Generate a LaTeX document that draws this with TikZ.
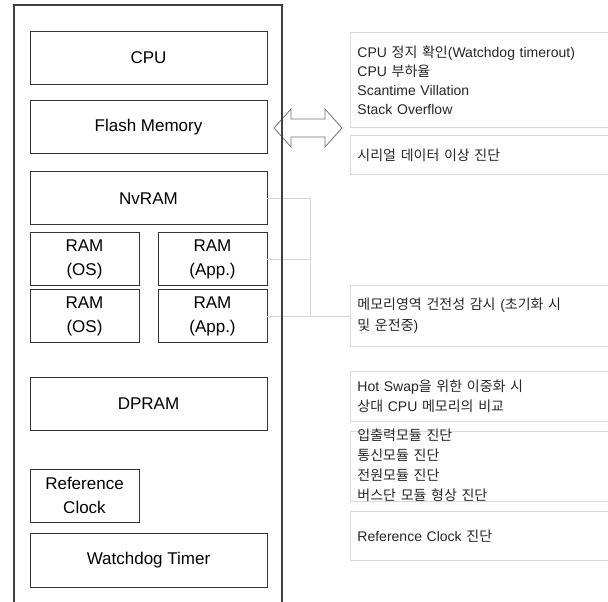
\documentclass[tikz,border=0pt]{standalone}
\usepackage{fontspec}
\setmainfont{Liberation Sans}
\newfontfamily\krfont{Noto Sans CJK KR}
\newcommand{\kr}[1]{{\krfont #1}}
\usetikzlibrary{positioning}
\tikzset{
    unitblock/.style={draw=black!80, line width=0.9pt, align=center, inner sep=0pt, font=\fontsize{17}{24}\selectfont, minimum width=237pt, minimum height=53pt},
    unithalf/.style={unitblock, minimum width=109pt},
    checkbox/.style={draw=black!15, line width=0.9pt, align=left, anchor=north west, inner xsep=7pt, inner ysep=0pt, text width=248pt, font=\fontsize{14}{19}\selectfont, text=black!85},
    linkline/.style={draw=black!16, line width=1pt},
    linkarrow/.style={draw=black!55, fill=white, line width=0.8pt, line join=miter},
    framewall/.style={draw=black!75, line width=1.1pt}
}
\begin{document}
\begin{tikzpicture}[x=1pt, y=-1pt, node distance=16pt]
    \useasboundingbox (0,0) rectangle (608,602);
    % module side
    \node[unitblock] (cpu) at (148.5,57.5) {CPU};
    \node[unitblock, below=16pt of cpu] (flash) {Flash Memory};
    \node[unitblock, below=17pt of flash] (nvram) {NvRAM};
    \node[unithalf, below=7pt of nvram.south west, anchor=north west] (ramos) {RAM\\(OS)};
    \node[unithalf, below=7pt of nvram.south east, anchor=north east] (ramapp) {RAM\\(App.)};
    \node[unithalf, below=3pt of ramos] (ramosb) {RAM\\(OS)};
    \node[unithalf, below=3pt of ramapp] (ramappb) {RAM\\(App.)};
    \node[unitblock, below=34pt of ramosb.south west, anchor=north west] (dpram) {DPRAM};
    \node[unithalf, below=38pt of dpram.south west, anchor=north west] (refclk) {Reference\\Clock};
    \node[unitblock, below=10pt of refclk.south west, anchor=north west, minimum height=54pt] (wdt) {Watchdog Timer};
    % diagnosis side
    \node[checkbox, minimum height=95pt] (cpuchk) at (350,32) {CPU \kr{정지 확인}(Watchdog timerout)\\CPU \kr{부하율}\\Scantime Villation\\Stack Overflow};
    \node[checkbox, minimum height=39pt] (serchk) at (350,135) {\kr{시리얼 데이터 이상 진단}};
    \node[checkbox, minimum height=61pt, font=\fontsize{14}{21}\selectfont, anchor=west] (memchk) at (350,315.5) {\kr{메모리영역 건전성 감시} (\kr{초기화 시}\\\kr{및 운전중})};
    \node[checkbox, minimum height=50pt, font=\fontsize{14}{20}\selectfont] (swapchk) at (350,371) {Hot Swap\kr{을 위한 이중화 시}\\\kr{상대} CPU \kr{메모리의 비교}};
    \node[checkbox, minimum height=70pt, text height=9pt, text depth=61pt, font=\fontsize{14}{20}\selectfont] (iochk) at (350,431) {\kr{입출력모듈 진단}\\\kr{통신모듈 진단}\\\kr{전원모듈 진단}\\\kr{버스단 모듈 형상 진단}};
    \node[checkbox, minimum height=49pt] (clkchk) at (350,511) {Reference Clock \kr{진단}};
    % memory links
    \path (ramappb.east) -- ++(43,0) coordinate (join);
    \draw[linkline] (nvram.east) -| (join);
    \draw[linkline] (ramapp.east) -| (join);
    \draw[linkline] (ramappb.east) -- (ramappb.east -| memchk.west);
    % double arrow
    \draw[linkarrow] (274,128) -- (291,109) -- (291,119) -- (325,119) -- (325,109) -- (342,128)
        -- (325,147) -- (325,137) -- (291,137) -- (291,147) -- cycle;
    % rack frame
    \draw[framewall] (14,602) -- (14,5) -- (282,5) -- (282,602);
\end{tikzpicture}
\end{document}
